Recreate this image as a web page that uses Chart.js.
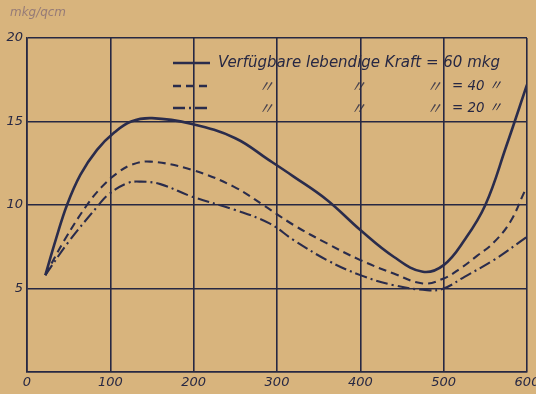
<!DOCTYPE html>
<html>
<head>
<meta charset="utf-8">
<script src="https://cdn.jsdelivr.net/npm/chart.js@4"></script>
<style>
  html, body { margin: 0; padding: 0; background: #d8b47d; }
  #wrap { position: relative; width: 536px; height: 394px; }
</style>
</head>
<body>
<div id="wrap"><canvas id="kraftChart" width="536" height="394"></canvas></div>
<script>
'use strict';

// ── Data ────────────────────────────────────────────────
const xTicks = [0, 100, 200, 300, 400, 500, 600];
const yTicks = [5, 10, 15, 20];

const kraft60X = [22, 35, 48, 64, 84, 105, 125, 150, 198, 250, 290, 320, 360, 400, 440, 475, 500, 525, 550, 575, 600];
const kraft60Y = [5.8, 8.0, 10.0, 11.8, 13.3, 14.35, 15.0, 15.2, 14.85, 14.0, 12.7, 11.7, 10.3, 8.5, 6.9, 6.0, 6.4, 7.9, 10.0, 13.5, 17.2];

const kraft40X = [22, 45, 72, 90, 108, 125, 148, 198, 248, 285, 320, 360, 400, 440, 475, 500, 520, 540, 560, 580, 597];
const kraft40Y = [5.8, 7.9, 10.0, 11.1, 11.9, 12.4, 12.6, 12.1, 11.1, 9.95, 8.8, 7.7, 6.7, 5.9, 5.3, 5.6, 6.2, 6.95, 7.75, 9.0, 10.8];

const kraft20X = [22, 50, 86, 97, 120, 136, 160, 198, 250, 291, 320, 360, 400, 440, 480, 500, 525, 560, 600];
const kraft20Y = [5.8, 7.8, 10.0, 10.6, 11.3, 11.4, 11.25, 10.5, 9.7, 8.9, 7.9, 6.7, 5.8, 5.2, 4.9, 5.0, 5.7, 6.7, 8.1];

const legendLabels = ['Verfügbare lebendige Kraft = 60 mkg', '= 40 〃', '= 20 〃'];
const yUnit = 'mkg/qcm';

// ── Styles ─────────────────────────────────────────────
const INK = '#272843';
const CURVE = '#2a2c4c';

const toPoints = (xs, ys) => xs.map((x, i) => ({ x: x, y: ys[i] }));

// legend + unit label drawn straight on the canvas
const annotations = {
    id: 'annotations',
    afterDatasetsDraw(chart) {
        const ctx = chart.ctx;
        ctx.save();

        // unit label, top left
        ctx.fillStyle = 'rgba(105, 85, 115, 0.6)';
        ctx.font = 'italic 13px "DejaVu Sans", sans-serif';
        ctx.textBaseline = 'middle';
        ctx.fillText(yUnit, 10, 13, 56);

        // legend sample lines
        const rows = [63, 86, 108];
        const dashes = [[], [8, 5], [12, 4, 2, 4]];
        ctx.strokeStyle = CURVE;
        ctx.lineWidth = 2.4;
        rows.forEach((y, i) => {
            ctx.setLineDash(dashes[i]);
            ctx.beginPath();
            ctx.moveTo(173, y);
            ctx.lineTo(210, y);
            ctx.stroke();
        });
        ctx.setLineDash([]);

        // legend texts
        ctx.fillStyle = INK;
        ctx.font = 'italic 15px "DejaVu Sans", sans-serif';
        ctx.fillText(legendLabels[0], 218, rows[0], 294);

        [rows[1], rows[2]].forEach((y, i) => {
            ctx.font = 'italic 16px "DejaVu Sans", "Noto Sans CJK JP", sans-serif';
            ctx.globalAlpha = 0.8;
            [258, 350, 426].forEach((mx) => ctx.fillText('〃', mx, y + 2));
            ctx.globalAlpha = 1;
            ctx.font = 'italic 14px "DejaVu Sans", "Noto Sans CJK JP", sans-serif';
            ctx.fillText(legendLabels[i + 1], 452, y, 50);
        });
        ctx.restore();
    }
};

const canvas = document.getElementById('kraftChart');
new Chart(canvas, {
    type: 'line',
    data: {
        datasets: [
            {
                label: '60 mkg',
                data: toPoints(kraft60X, kraft60Y),
                borderColor: CURVE,
                borderWidth: 2.6,
            },
            {
                label: '40 mkg',
                data: toPoints(kraft40X, kraft40Y),
                borderColor: CURVE,
                borderWidth: 2.1,
                borderDash: [8, 5],
            },
            {
                label: '20 mkg',
                data: toPoints(kraft20X, kraft20Y),
                borderColor: CURVE,
                borderWidth: 2.1,
                borderDash: [12, 4, 2, 4],
            }
        ]
    },
    options: {
        responsive: false,
        animation: false,
        events: [],
        layout: { padding: { top: 38, right: 9, left: 0, bottom: 0 } },
        elements: {
            point: { radius: 0 },
            line: { tension: 0.4, fill: false }
        },
        scales: {
            x: {
                type: 'linear',
                min: 0,
                max: 600,
                afterBuildTicks: (scale) => { scale.ticks = xTicks.map(v => ({ value: v })); },
                afterFit: (scale) => {
                    scale.height = 22;
                    scale.paddingLeft = 0;
                    scale.paddingRight = 0;
                },
                grid: { color: INK, lineWidth: 1.6, drawTicks: false },
                border: { color: INK, width: 1.6 },
                ticks: {
                    padding: 3,
                    color: INK,
                    font: { family: '"DejaVu Sans", sans-serif', style: 'italic', size: 13 },
                    maxRotation: 0,
                }
            },
            y: {
                type: 'linear',
                min: 0,
                max: 20,
                afterBuildTicks: (scale) => { scale.ticks = [0].concat(yTicks).map(v => ({ value: v })); },
                afterFit: (scale) => {
                    scale.width = 27;
                    scale.paddingTop = 0;
                    scale.paddingBottom = 0;
                },
                grid: { color: INK, lineWidth: 1.6, drawTicks: false },
                border: { color: INK, width: 1.6 },
                ticks: {
                    padding: 4,
                    color: INK,
                    font: { family: '"DejaVu Sans", sans-serif', style: 'italic', size: 13 },
                    callback: (val) => (val === 0 ? '' : String(val)),
                }
            }
        },
        plugins: {
            legend: { display: false },
            tooltip: { enabled: false }
        }
    },
    plugins: [annotations]
});
</script>
</body>
</html>
